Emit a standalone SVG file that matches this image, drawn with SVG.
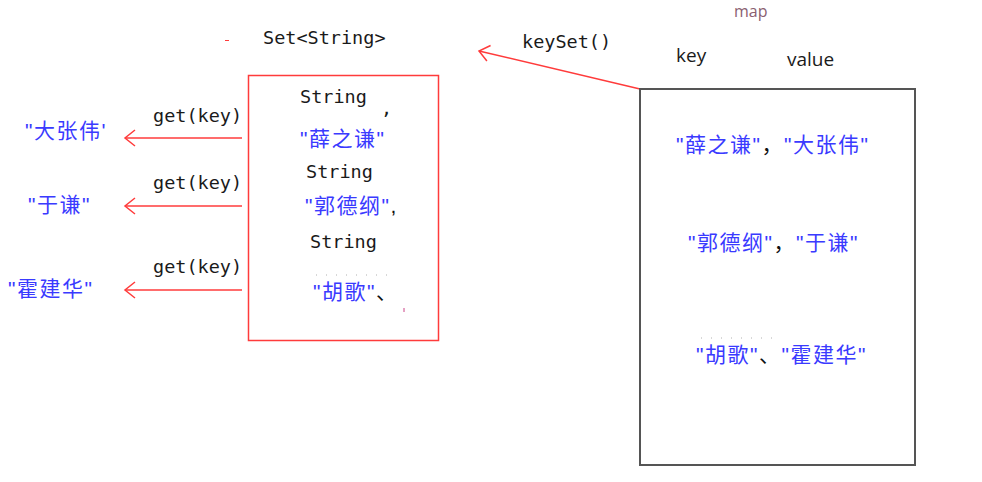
<svg xmlns="http://www.w3.org/2000/svg" width="982" height="482" viewBox="0 0 982 482">
<style>
.mono{font-family:"DejaVu Sans Mono","Liberation Mono",monospace;font-size:18.5px;fill:#1a1a1a}
.cn{font-family:"Liberation Sans","Noto Sans CJK SC",sans-serif;font-size:21px;letter-spacing:1.5px;fill:#3a3aff}
.blk{fill:#111}
.lbl{font-family:"Open Sans","Liberation Sans",sans-serif;font-size:19px;fill:#1a1a1a}
.red{stroke:#ff3b3b;stroke-width:1.5;fill:none}
.dots{stroke:#b0b0b0;stroke-width:1;stroke-dasharray:1 9}
</style>
<defs>
<marker id="open" markerWidth="14" markerHeight="20" refX="12" refY="10" orient="auto" markerUnits="userSpaceOnUse">
<path d="M2,2 L12,10 L2,18" fill="none" stroke="#ff3b3b" stroke-width="1.5"/>
</marker>
</defs>
<rect width="982" height="482" fill="#fff"/>
<g id="connectors">
<line class="red" x1="242" y1="138" x2="125" y2="138" marker-end="url(#open)"/>
<line class="red" x1="242" y1="206" x2="125" y2="206" marker-end="url(#open)"/>
<line class="red" x1="242" y1="290" x2="125" y2="290" marker-end="url(#open)"/>
<line class="red" x1="640" y1="89" x2="479" y2="51" marker-end="url(#open)"/>
<line x1="225" y1="40.5" x2="229" y2="40.5" stroke="#ff3b3b" stroke-width="1"/>
</g>
<g id="labels">
<text class="mono" x="263" y="44">Set&lt;String&gt;</text>
<text class="mono" x="522" y="48">keySet()</text>
<text class="mono" x="153" y="122">get(key)</text>
<text class="mono" x="153" y="189">get(key)</text>
<text class="mono" x="153" y="273">get(key)</text>
<text x="734" y="17" style="font-family:'Open Sans','Liberation Sans',sans-serif;font-size:16px;fill:#8a6070">map</text>
<text class="lbl" x="676" y="62">key</text>
<text class="lbl" x="787" y="66">value</text>
</g>
<g id="results">
<text class="cn" x="25" y="138">"大张伟'</text>
<text class="cn" x="28" y="212">"于谦"</text>
<text class="cn" x="8" y="296">"霍建华"</text>
</g>
<g id="set">
<rect x="248.5" y="75.5" width="190" height="265" fill="none" stroke="#ff3b3b" stroke-width="1.5"/>
<text class="mono" x="300" y="103">String</text>
<text class="mono" x="381" y="115">,</text>
<text class="cn" x="300" y="146">"薛之谦"</text>
<text class="mono" x="306" y="178">String</text>
<text class="cn" x="305" y="213">"郭德纲"<tspan class="blk">,</tspan></text>
<text class="mono" x="310" y="248">String</text>
<line class="dots" x1="316" y1="275" x2="392" y2="275"/>
<text class="cn" x="313" y="299">"胡歌"<tspan class="blk">、</tspan></text>
<line x1="404" y1="308" x2="404" y2="312" stroke="#cc4488" stroke-width="1"/>
</g>
<g id="map">
<rect x="640" y="89" width="275" height="376" fill="none" stroke="#555" stroke-width="2"/>
<text class="cn" x="676" y="152">"薛之谦"<tspan class="blk">，</tspan>"大张伟"</text>
<text class="cn" x="688" y="250">"郭德纲"<tspan class="blk">，</tspan>"于谦"</text>
<line class="dots" x1="701" y1="338" x2="775" y2="338"/>
<text class="cn" x="696" y="362">"胡歌"<tspan class="blk">、</tspan>"霍建华"</text>
</g>
</svg>
